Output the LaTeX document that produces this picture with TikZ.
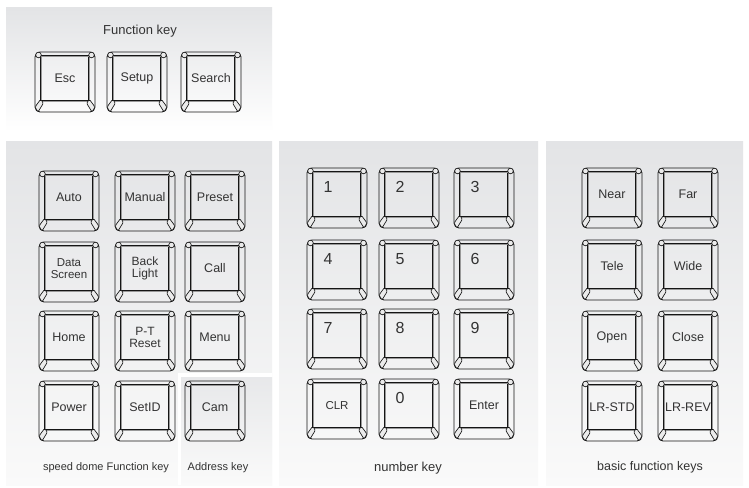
\documentclass[tikz,border=0pt]{standalone}
\usepackage{fontspec}
\setmainfont{Liberation Sans}
\definecolor{txt}{HTML}{333333}
\definecolor{ink}{HTML}{151515}
\definecolor{pantop}{HTML}{E3E4E6}
\definecolor{panbot}{HTML}{FAFAFA}
\newcommand\kcap[5]{%
  \draw[keyout] (#2-30,#3-30) rectangle (#2+30,#3+30);
  \node[keyface,#5] (#1) at (#2,#3-3.5) {#4};
  \draw[kcorner] (#2-26.5,#3-27) circle[radius=2.8];
  \draw[kcorner] (#2+26.5,#3-27) circle[radius=2.8];
  \draw[kcorner,rounded corners=1.2pt] (#2-24.5,#3+17.5) -- (#2-30,#3+25) -- (#2-27,#3+30) -- (#2-21.5,#3+21) -- cycle;
  \draw[kcorner,rounded corners=1.2pt] (#2+24.5,#3+17.5) -- (#2+30,#3+25) -- (#2+27,#3+30) -- (#2+21.5,#3+21) -- cycle;
}
\newcommand\nkey[4]{%
  \kcap{#1face}{#2}{#3}{}{}
  \node[numlabel] (#1) at (#2-9,#3-11) {#4};
}
\begin{document}
\begin{tikzpicture}[x=1pt,y=-1pt,
  keyout/.style={draw=ink, line width=0.9pt, rounded corners=5pt},
  keyface/.style={draw=ink, double=black!40, double distance=0.5pt, line width=0.75pt,
    minimum width=48pt, minimum height=45pt, inner sep=0pt, text=txt,
    font=\fontsize{12.5}{13}\selectfont, align=center},
  kcorner/.style={draw=ink, line width=0.65pt, fill=white!92!black},
  numlabel/.style={text=txt, font=\fontsize{16}{16}\selectfont, inner sep=0pt},
  caption/.style={text=txt, font=\fontsize{11}{12}\selectfont, inner sep=0pt},
  panel/.style={top color=pantop, bottom color=panbot, draw=none}]
\useasboundingbox (0,0) rectangle (749,487);
\fill[white] (0,0) rectangle (749,487);
% panels
\shade[top color=pantop, bottom color=white] (6,8) rectangle (272,132);
\shade[panel] (6,141) rectangle (272,485);
\fill[white] (178,373) rectangle (272,485);
\shade[top color=pantop!85!white, bottom color=panbot] (181,377) rectangle (272,485);
\shade[panel] (279,141) rectangle (538,485);
\shade[panel] (546,141) rectangle (743,485);
% top function keys
\node[caption, font=\fontsize{13}{14}\selectfont] (ftitle) at (140,31) {Function key};
\kcap{esc}{65}{82}{Esc}{}
\kcap{setup}{137}{82}{Setup}{}
\kcap{search}{211}{82}{Search}{}
% speed dome function keys
\kcap{auto}{69}{201}{Auto}{}
\kcap{manual}{145}{201}{Manual}{}
\kcap{preset}{215}{201}{Preset}{}
\kcap{datascreen}{69}{272}{Data\\[-1pt]Screen}{font=\fontsize{11.5}{12.5}\selectfont}
\kcap{backlight}{145}{272}{Back\\[-1pt]Light}{font=\fontsize{12}{12.5}\selectfont}
\kcap{call}{215}{272}{Call}{}
\kcap{home}{69}{341}{Home}{}
\kcap{ptreset}{145}{341}{P-T\\[-1pt]Reset}{font=\fontsize{12}{12.5}\selectfont}
\kcap{menu}{215}{341}{Menu}{}
\kcap{power}{69}{411}{Power}{}
\kcap{setid}{145}{411}{SetID}{}
\kcap{cam}{215}{411}{Cam}{}
\node[caption] (sdcap) at (106,468) {speed dome Function key};
\node[caption] (adcap) at (218,468) {Address key};
% number keys
\nkey{n1}{337}{198}{1}
\nkey{n2}{409}{198}{2}
\nkey{n3}{484}{198}{3}
\nkey{n4}{337}{270}{4}
\nkey{n5}{409}{270}{5}
\nkey{n6}{484}{270}{6}
\nkey{n7}{337}{339}{7}
\nkey{n8}{409}{339}{8}
\nkey{n9}{484}{339}{9}
\kcap{clr}{337}{409}{CLR}{font=\fontsize{11.5}{12}\selectfont}
\nkey{n0}{409}{409}{0}
\kcap{enter}{484}{409}{Enter}{}
\node[caption, font=\fontsize{13}{14}\selectfont] (numcap) at (408,468) {number key};
% basic function keys
\kcap{near}{612}{198}{Near}{}
\kcap{far}{688}{198}{Far}{}
\kcap{tele}{612}{270}{Tele}{}
\kcap{wide}{688}{270}{Wide}{}
\kcap{open}{612}{341}{Open}{}
\kcap{close}{688}{341}{Close}{}
\kcap{lrstd}{612}{411}{LR-STD}{}
\kcap{lrrev}{688}{411}{LR-REV}{}
\node[caption, font=\fontsize{12.5}{13}\selectfont] (bascap) at (650,467) {basic function keys};
\end{tikzpicture}
\end{document}
